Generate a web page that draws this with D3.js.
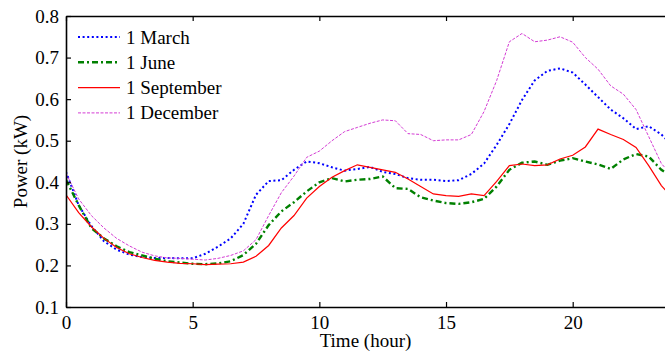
<!DOCTYPE html>
<html>
<head>
<meta charset="utf-8">
<script src="https://d3js.org/d3.v7.min.js"></script>
<style>
  body { margin: 0; background: #fff; }
  svg text { font-family: "Liberation Serif", "Times New Roman", serif; fill: #000; }
</style>
</head>
<body>
<svg id="chart" width="665" height="352"></svg>
<script>
// hours of the day (half-hour steps, last sample at 23:45)
const hours = [0,0.5,1,1.5,2,2.5,3,3.5,4,4.5,5,5.5,6,6.5,7,7.5,8,8.5,9,9.5,10,10.5,11,11.5,
  12,12.5,13,13.5,14,14.5,15,15.5,16,16.5,17,17.5,18,18.5,19,19.5,20,20.5,21,21.5,22,22.5,23,23.5,23.75];

const march = [0.425,0.345,0.295,0.258,0.238,0.226,0.220,0.218,0.218,0.217,0.217,0.228,0.245,0.265,0.300,0.370,
  0.403,0.405,0.430,0.450,0.446,0.436,0.428,0.432,0.437,0.425,0.420,0.410,0.406,0.406,0.403,0.405,
  0.420,0.445,0.490,0.540,0.598,0.645,0.668,0.674,0.664,0.635,0.605,0.575,0.554,0.528,0.535,0.515,0.500];

const june = [0.406,0.345,0.290,0.265,0.246,0.232,0.224,0.216,0.210,0.207,0.204,0.203,0.205,0.210,0.225,0.252,
  0.297,0.330,0.352,0.378,0.400,0.410,0.402,0.406,0.408,0.414,0.386,0.384,0.364,0.356,0.350,0.348,
  0.352,0.360,0.390,0.430,0.447,0.450,0.442,0.452,0.458,0.450,0.443,0.432,0.455,0.468,0.462,0.430,0.420];

const september = [0.370,0.327,0.293,0.265,0.243,0.228,0.219,0.212,0.208,0.205,0.204,0.202,0.203,0.204,0.208,0.222,
  0.248,0.290,0.320,0.362,0.390,0.412,0.428,0.442,0.436,0.430,0.424,0.408,0.390,0.372,0.368,0.366,
  0.372,0.368,0.402,0.440,0.444,0.440,0.442,0.456,0.465,0.485,0.528,0.515,0.503,0.484,0.440,0.392,0.375];

const december = [0.422,0.360,0.320,0.290,0.265,0.247,0.232,0.223,0.218,0.217,0.215,0.213,0.217,0.224,0.235,0.262,
  0.320,0.375,0.415,0.460,0.475,0.500,0.522,0.532,0.542,0.550,0.548,0.517,0.515,0.500,0.502,0.502,
  0.515,0.570,0.645,0.738,0.758,0.738,0.742,0.750,0.737,0.700,0.672,0.632,0.612,0.575,0.510,0.445,0.428];

const xTicks = [0, 5, 10, 15, 20];
const yTicks = [0.1, 0.2, 0.3, 0.4, 0.5, 0.6, 0.7, 0.8];

const series = [
  { name: "1 March", values: march, color: "#0000ff", width: 2, dash: "2,2.6" },
  { name: "1 June", values: june, color: "#008000", width: 2.4, dash: "6,3,2,3" },
  { name: "1 September", values: september, color: "#ff0000", width: 1.2, dash: null },
  { name: "1 December", values: december, color: "#d43cd4", width: 1, dash: "3,1.5" }
];

const svg = d3.select("#chart");
const mLeft = 66, mTop = 16, mBottom = 307, mRight = 667.7;

const x = d3.scaleLinear().domain([0, 23.75]).range([mLeft, mRight]);
const y = d3.scaleLinear().domain([0.1, 0.8]).range([mBottom, mTop]);

svg.append("defs").append("clipPath").attr("id", "plotclip")
  .append("rect").attr("x", mLeft).attr("y", mTop - 2).attr("width", mRight - mLeft).attr("height", mBottom - mTop + 4);

// lines
const line = d3.line().x((d, i) => x(hours[i])).y(d => y(d));
const g = svg.append("g").attr("clip-path", "url(#plotclip)");
series.forEach(s => {
  g.append("path")
    .attr("d", line(s.values))
    .attr("fill", "none")
    .attr("stroke", s.color)
    .attr("stroke-width", s.width)
    .attr("stroke-dasharray", s.dash);
});

// axes (ticks pointing inward, MATLAB style)
const fontSize = 19;
const xAxisB = d3.axisBottom(x).tickValues(xTicks).tickSizeInner(-5).tickSizeOuter(0).tickPadding(9);
const xAxisT = d3.axisTop(x).tickValues(xTicks).tickSizeInner(-5).tickSizeOuter(0).tickFormat("");
const yAxisL = d3.axisLeft(y).tickValues(yTicks).tickSizeInner(-5).tickSizeOuter(0).tickPadding(7).tickFormat(d3.format(".1f"));

function style(sel) {
  sel.selectAll(".domain").attr("stroke", "#000").attr("stroke-width", 1.6);
  sel.selectAll(".tick line").attr("stroke", "#000").attr("stroke-width", 1.2);
  sel.selectAll(".tick text").attr("font-size", fontSize).attr("font-family", "Liberation Serif").attr("fill", "#000");
}

svg.append("g").attr("transform", `translate(0,${mBottom})`).call(xAxisB).call(style);
svg.append("g").attr("transform", `translate(0,${mTop})`).call(xAxisT).call(style);
svg.append("g").attr("transform", `translate(${mLeft},0)`).call(yAxisL).call(style);

// axis labels
svg.append("text").attr("x", (mLeft + 665) / 2).attr("y", 347)
  .attr("text-anchor", "middle").attr("font-size", fontSize).text("Time (hour)");
svg.append("text").attr("transform", `translate(27,${(mTop + mBottom) / 2}) rotate(-90)`)
  .attr("text-anchor", "middle").attr("font-size", fontSize).text("Power (kW)");

// legend
const legend = svg.append("g");
series.forEach((s, i) => {
  const cy = 37 + i * 25.3;
  legend.append("line").attr("x1", 78).attr("x2", 120).attr("y1", cy).attr("y2", cy)
    .attr("stroke", s.color).attr("stroke-width", s.width).attr("stroke-dasharray", s.dash);
  legend.append("text").attr("x", 126).attr("y", cy + 6.5).attr("font-size", fontSize).text(s.name);
});
</script>
</body>
</html>
